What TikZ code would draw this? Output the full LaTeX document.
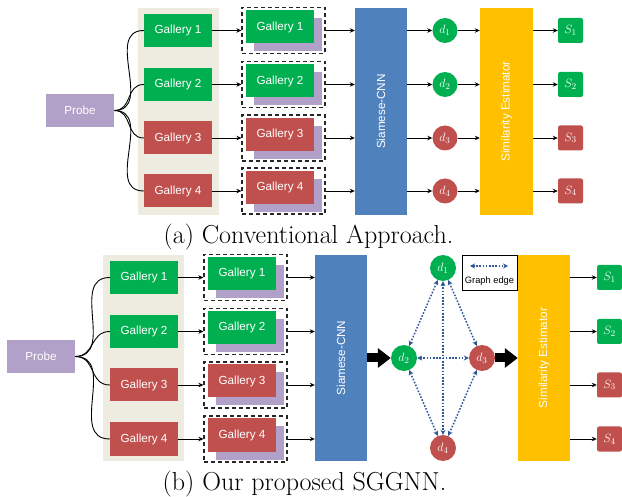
\documentclass[tikz,border=0pt]{standalone}
\usepackage{graphicx}
\usepackage{fontspec}
\newfontfamily\arial{Liberation Sans}
\usetikzlibrary{arrows.meta}
\definecolor{ggreen}{HTML}{00B050}
\definecolor{gred}{HTML}{C0504D}
\definecolor{gpurple}{HTML}{B1A0C7}
\definecolor{gblue}{HTML}{4F81BD}
\definecolor{gyellow}{HTML}{FFC000}
\definecolor{gbeige}{HTML}{EEECE1}
\definecolor{gedge}{HTML}{2F5597}
\begin{document}
\begin{tikzpicture}[x=1pt,y=-1pt,
  gbox/.style={rectangle, inner sep=0, minimum width=68pt, minimum height=33pt, text=white, font=\arial\fontsize{11.7}{14}\selectfont},
  shadowbox/.style={rectangle, inner sep=0, fill=gpurple, minimum width=68pt, minimum height=33pt},
  dbox/.style={rectangle, inner sep=0, draw=black!85, line width=1.2pt, dash pattern=on 4pt off 3pt, minimum width=83pt, minimum height=46pt},
  tallbox/.style={rectangle, inner sep=0, minimum width=52pt, minimum height=207pt, text=white, font=\arial\fontsize{11.7}{14}\selectfont},
  dnode/.style={circle, inner sep=0, minimum size=25pt, text=white, font=\fontsize{13}{15}\selectfont},
  snode/.style={rectangle, rounded corners=2pt, inner sep=0, minimum size=25pt, text=white, font=\fontsize{13}{15}\selectfont},
  arr/.style={-{Stealth[length=5pt,width=4.5pt]}, line width=0.9pt},
  curve/.style={line width=0.9pt},
  gedgeline/.style={gedge, line width=1.5pt, dash pattern=on 1.6pt off 1.6pt, {Stealth[length=5pt,width=5pt]}-{Stealth[length=5pt,width=5pt]}},
  bigarrow/.style={line width=9pt, -{Triangle[length=13pt,width=19pt]}},
  caption/.style={font=\fontsize{26}{30}\selectfont, anchor=base, inner sep=0}
]
\useasboundingbox (0,0) rectangle (622,497);

% ---------------- (a) ----------------
\fill[gbeige] (138,8) rectangle (219,215);
\node[gbox, fill=gpurple] (pa) at (80,110.5) {Probe};
\node[tallbox, fill=gblue] (cnnA) at (381,111.5) {\rotatebox{90}{Siamese-CNN}};
\node[tallbox, fill=gyellow, minimum width=53pt] (seA) at (506.5,111.5) {\rotatebox{90}{Similarity Estimator}};
\foreach \i/\y/\c in {1/30.5/ggreen,2/84.5/ggreen,3/138/gred,4/191/gred}{
  \node[gbox, fill=\c] (ga\i) at (178,\y) {Gallery \i};
  \node[dbox] (da\i) at (283.5,\y) {};
  \node[shadowbox] (sha\i) at (288,\y+4.5) {};
  \node[gbox, fill=\c] (ia\i) at (280,\y-3.5) {Gallery \i};
  \node[dnode, fill=\c] (dA\i) at (445,\y) {$d_{\i}$};
  \node[snode, fill=\c] (sA\i) at (570.5,\y) {$S_{\i}$};
  \draw[curve] (pa.east) to[out=0,in=180,looseness=1.2] (ga\i.west);
  \draw[arr] (ga\i.east) -- (da\i.west);
  \draw[arr] (da\i.east) -- (cnnA.west |- da\i.east);
  \draw[arr] (cnnA.east |- dA\i) -- (dA\i.west);
  \draw[arr] (dA\i.east) -- (seA.west |- dA\i);
  \draw[arr] (seA.east |- sA\i) -- (sA\i.west);
}
\node[caption] (capa) at (308.5,244) {(a) Conventional Approach.};

% ---------------- (b) ----------------
\fill[gbeige] (103,255) rectangle (184,461);
\node[gbox, fill=gpurple] (pb) at (41,356.5) {Probe};
\node[tallbox, fill=gblue, minimum height=206pt] (cnnB) at (341,358) {\rotatebox{90}{Siamese-CNN}};
\node[tallbox, fill=gyellow, minimum height=206pt] (seB) at (544,358) {\rotatebox{90}{Similarity Estimator}};
\foreach \i/\y/\c in {1/277.5/ggreen,2/331.5/ggreen,3/385/gred,4/439/gred}{
  \node[gbox, fill=\c] (gb\i) at (144,\y) {Gallery \i};
  \node[dbox] (db\i) at (245.5,\y) {};
  \node[shadowbox] (shb\i) at (250,\y+4) {};
  \node[gbox, fill=\c] (ib\i) at (242,\y-4) {Gallery \i};
  \node[snode, fill=\c] (sB\i) at (609.5,\y) {$S_{\i}$};
  \draw[curve] (pb.east) to[out=0,in=180,looseness=1.2] (gb\i.west);
  \draw[arr] (gb\i.east) -- (db\i.west);
  \draw[arr] (db\i.east) -- (cnnB.west |- db\i.east);
  \draw[arr] (seB.east |- sB\i) -- (sB\i.west);
}
\node[dnode, fill=ggreen, minimum size=26pt] (dB1) at (443,268) {$d_1$};
\node[dnode, fill=ggreen, minimum size=26pt] (dB2) at (404,358) {$d_2$};
\node[dnode, fill=gred, minimum size=26pt] (dB3) at (482,358) {$d_3$};
\node[dnode, fill=gred, minimum size=26pt] (dB4) at (443,448) {$d_4$};
\draw[gedgeline] (dB1) -- (dB2);
\draw[gedgeline] (dB1) -- (dB3);
\draw[gedgeline] (dB1) -- (dB4);
\draw[gedgeline] (dB2) -- (dB3);
\draw[gedgeline] (dB2) -- (dB4);
\draw[gedgeline] (dB3) -- (dB4);
\draw[bigarrow] (cnnB.east |- dB2) -- (dB2.west);
\draw[bigarrow] (dB3.east) -- (seB.west |- dB3);

\node[rectangle, draw=black, line width=0.8pt, inner sep=0, minimum width=55pt, minimum height=35pt] (leg) at (489.5,272.5) {};
\coordinate (legA) at (470,266);
\coordinate (legB) at (508,266);
\draw[gedgeline] (legA) -- (legB);
\node[font=\arial\fontsize{9.3}{11}\selectfont, inner sep=0] (legt) at (489.5,281) {Graph edge};

\node[caption] (capb) at (304.5,490) {(b) Our proposed SGGNN.};
\end{tikzpicture}
\end{document}
